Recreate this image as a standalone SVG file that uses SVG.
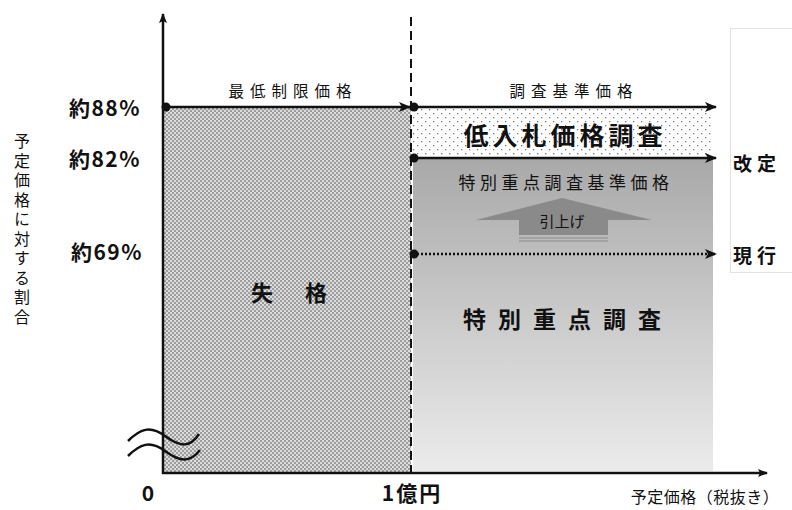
<svg xmlns="http://www.w3.org/2000/svg" width="792" height="510" viewBox="0 0 792 510">
<defs>
<style>
text{font-family:"Noto Sans CJK JP","Liberation Sans",sans-serif;fill:#111;}
.b{font-weight:bold;}
.ax{stroke:#111;stroke-width:2.5;fill:none;}
.ln{stroke:#111;stroke-width:2.5;fill:none;}
</style>
<pattern id="hatch" width="4" height="4" patternUnits="userSpaceOnUse">
<rect width="4" height="4" fill="#dcdcdc"/>
<rect width="2" height="2" fill="#9c9c9c"/>
<rect x="2" y="2" width="2" height="2" fill="#9c9c9c"/>
</pattern>
<pattern id="dots" width="8" height="8" patternUnits="userSpaceOnUse">
<rect width="8" height="8" fill="#fff"/>
<rect x="1" y="1" width="1.3" height="1.3" fill="#777"/>
<rect x="5" y="5" width="1.3" height="1.3" fill="#777"/>
</pattern>
<linearGradient id="grad" x1="0" y1="0" x2="0" y2="1">
<stop offset="0" stop-color="#a9a9a9"/>
<stop offset="1" stop-color="#ebebeb"/>
</linearGradient>
<marker id="arr" viewBox="0 0 12 10" refX="11" refY="5" markerWidth="12" markerHeight="10" markerUnits="userSpaceOnUse" orient="auto">
<path d="M0,0 L12,5 L0,10 L3,5 Z" fill="#111"/>
</marker>
<marker id="axarr" viewBox="0 0 10 10" refX="9" refY="5" markerWidth="10" markerHeight="10" markerUnits="userSpaceOnUse" orient="auto">
<path d="M0,1 L10,5 L0,9 L2,5 Z" fill="#111"/>
</marker>
</defs>
<rect width="792" height="510" fill="#fff"/>

<g id="legend-box">
<rect x="730.5" y="28.5" width="65" height="244" fill="#fff" stroke="#e2e2e2" stroke-width="1"/>
</g>

<g id="region-fail">
<rect x="163" y="107" width="248" height="366" fill="url(#hatch)"/>
<text x="262" y="301" font-size="22" class="b" text-anchor="middle">失</text>
<text x="316" y="301" font-size="22" class="b" text-anchor="middle">格</text>
</g>
<g id="region-low">
<rect x="413" y="107" width="300" height="51" fill="url(#dots)"/>
<text x="565" y="145" font-size="25" class="b" text-anchor="middle" letter-spacing="4">低入札価格調査</text>
</g>
<g id="region-special">
<rect x="413" y="158" width="300" height="313" fill="url(#grad)"/>
<text x="566" y="189" font-size="17" text-anchor="middle" letter-spacing="4.5">特別重点調査基準価格</text>
<text x="568" y="328" font-size="23" class="b" text-anchor="middle" letter-spacing="12">特別重点調査</text>
</g>
<g id="raise-arrow">
<polygon points="562,198 652,220 608,220 608,235 519,235 519,220 476,220" fill="#8a8a8a"/>
<line x1="519" y1="238" x2="608" y2="238" stroke="#8a8a8a" stroke-width="1.2"/>
<line x1="519" y1="241" x2="608" y2="241" stroke="#8a8a8a" stroke-width="1.2"/>
<text x="562" y="227" font-size="15" text-anchor="middle">引上げ</text>
</g>

<g id="connectors">
<line x1="411" y1="17" x2="411" y2="473" stroke="#111" stroke-width="2" stroke-dasharray="9,5"/>
<line class="ax" x1="163" y1="474" x2="163" y2="14" marker-end="url(#axarr)"/>
<line class="ax" x1="162" y1="473" x2="767" y2="473" marker-end="url(#axarr)"/>
<line class="ln" x1="166" y1="107" x2="410" y2="107" marker-end="url(#arr)"/>
<line class="ln" x1="413" y1="107" x2="716" y2="107" marker-end="url(#arr)"/>
<line class="ln" x1="413" y1="158" x2="716" y2="158" marker-end="url(#arr)"/>
<line x1="413" y1="254" x2="716" y2="254" stroke="#111" stroke-width="2.5" stroke-dasharray="2,2" marker-end="url(#arr)"/>
<circle cx="166" cy="107" r="4.5" fill="#111"/>
<circle cx="414" cy="107" r="4.5" fill="#111"/>
<circle cx="414" cy="158" r="4.5" fill="#111"/>
<circle cx="414" cy="254" r="4.5" fill="#111"/>
<path d="M128,441 C140,429 150,425 165,436 S190,448 199,434" stroke="#111" stroke-width="2.5" fill="none"/>
<path d="M128,456 C140,444 150,440 165,451 S190,463 200,450" stroke="#111" stroke-width="2.5" fill="none"/>
</g>

<g id="labels">
<text x="293" y="97" font-size="15.5" text-anchor="middle" letter-spacing="6">最低制限価格</text>
<text x="574" y="97" font-size="15.5" text-anchor="middle" letter-spacing="6">調査基準価格</text>
<text x="105" y="116" font-size="21" class="b" text-anchor="middle" letter-spacing="1.5">約88%</text>
<text x="105" y="167" font-size="21" class="b" text-anchor="middle" letter-spacing="1.5">約82%</text>
<text x="107" y="260" font-size="21" class="b" text-anchor="middle" letter-spacing="1.5">約69%</text>
<text x="733" y="171" font-size="19" class="b" letter-spacing="5">改定</text>
<text x="733" y="263" font-size="19" class="b" letter-spacing="5">現行</text>
<text x="22" y="133" font-size="16" letter-spacing="3.5" style="writing-mode:vertical-rl">予定価格に対する割合</text>
<text x="148" y="501" font-size="21" class="b" text-anchor="middle">0</text>
<text x="412" y="501" font-size="21" class="b" text-anchor="middle" letter-spacing="2">1億円</text>
<text x="705" y="503" font-size="16" text-anchor="middle" letter-spacing="0.5">予定価格（税抜き）</text>
</g>
</svg>
